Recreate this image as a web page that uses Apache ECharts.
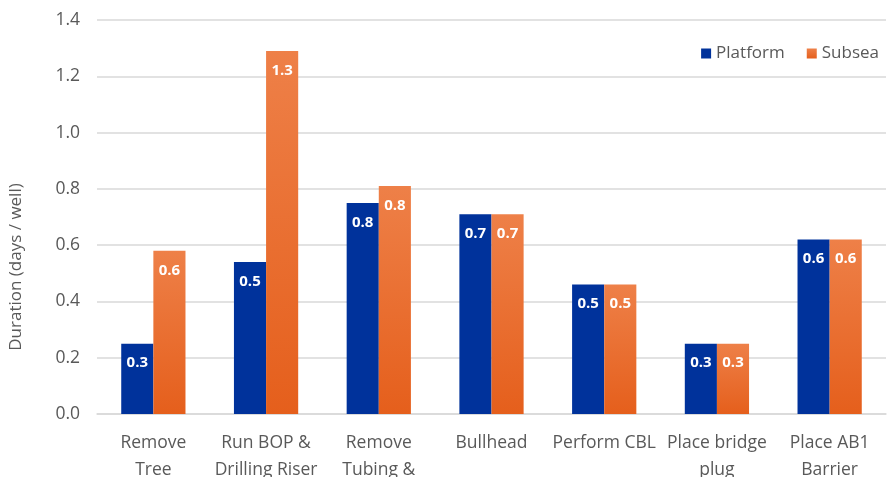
<!DOCTYPE html>
<html><head><meta charset="utf-8">
<script src="https://cdn.jsdelivr.net/npm/echarts@6/dist/echarts.min.js"></script>
<style>html,body{margin:0;padding:0;background:#fff}#c{width:888px;height:477px}</style>
</head><body><div id="c"></div>
<script>
const categories = ["Remove\nTree", "Run BOP &\nDrilling Riser", "Remove\nTubing &", "Bullhead", "Perform CBL", "Place bridge\nplug", "Place AB1\nBarrier"];
const platform = [0.25, 0.54, 0.75, 0.71, 0.46, 0.25, 0.62];
const subsea = [0.58, 1.29, 0.81, 0.71, 0.46, 0.25, 0.62];
const yTicks = [0, 0.2, 0.4, 0.6, 0.8, 1.0, 1.2, 1.4];

const FONT = "Open Sans";
const chart = echarts.init(document.getElementById('c'));
const lbl = {
  show: true, position: 'insideTop', distance: 12,
  color: '#fff', fontWeight: 'bold', fontSize: 15, fontFamily: FONT,
  formatter: p => p.value.toFixed(1)
};
chart.setOption({
  animation: false,
  textStyle: { fontFamily: FONT },
  grid: { left: 97, right: 2, top: 20, bottom: 63, containLabel: false, outerBoundsMode: 'none' },
  legend: {
    right: 4, top: 40, itemWidth: 10, itemHeight: 10, itemGap: 22,
    icon: 'rect',
    textStyle: { color: '#595959', fontSize: 17, fontFamily: FONT }
  },
  xAxis: {
    type: 'category', data: categories,
    axisTick: { show: false },
    axisLine: { lineStyle: { color: '#d9d9d9', width: 1.5 } },
    axisLabel: { color: '#595959', fontSize: 17.5, fontFamily: FONT, margin: 16, lineHeight: 27, interval: 0 }
  },
  yAxis: {
    type: 'value', min: 0, max: 1.4, interval: 0.2,
    name: 'Duration (days / well)', nameLocation: 'middle', nameGap: 72,
    nameTextStyle: { color: '#595959', fontSize: 17, fontFamily: FONT, padding: [0, 100, 0, 0] },
    axisLabel: { color: '#595959', fontSize: 17.5, fontFamily: FONT, margin: 17,
      formatter: v => v.toFixed(1) },
    splitLine: { lineStyle: { color: '#d9d9d9', width: 1.5 } },
    axisLine: { show: false }, axisTick: { show: false }
  },
  series: [
    { name: 'Platform', type: 'bar', data: platform, barGap: '0%', barCategoryGap: '43%',
      itemStyle: { color: '#00329B' }, label: lbl },
    { name: 'Subsea', type: 'bar', data: subsea,
      itemStyle: { color: new echarts.graphic.LinearGradient(0, 0, 0, 1, [
        { offset: 0, color: '#EE8048' }, { offset: 1, color: '#E55F1C' }]) },
      label: lbl }
  ]
});
</script></body></html>
